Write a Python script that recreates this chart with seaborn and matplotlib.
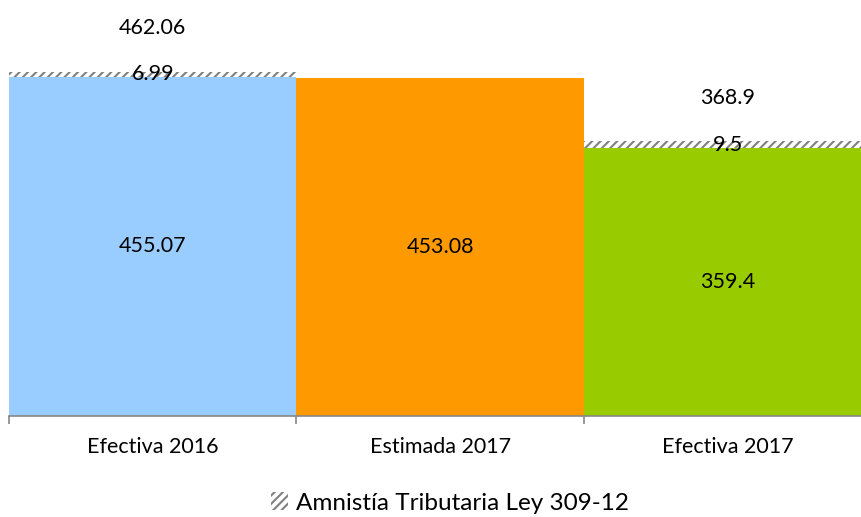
import pandas as pd
import seaborn as sns
import matplotlib.pyplot as plt

categories = ['Efectiva 2016', 'Estimada 2017', 'Efectiva 2017']
base_values = [455.07, 453.08, 359.4]
amnesty_values = [6.99, 0.0, 9.5]
total_labels = ['462.06', '', '368.9']
base_labels = ['455.07', '453.08', '359.4']
amnesty_labels = ['6.99', '', '9.5']
colors = ['#99CCFF', '#FF9900', '#99CC00']

sns.set_theme(style='white')
plt.rcParams['font.family'] = ['Lato', 'DejaVu Sans']
plt.rcParams['text.color'] = 'black'
plt.rcParams['hatch.color'] = '#808080'
plt.rcParams['hatch.linewidth'] = 1.5

df = pd.DataFrame({'cat': categories, 'base': base_values, 'amnesty': amnesty_values})
df['total'] = df['base'] + df['amnesty']

fig = plt.figure(figsize=(8.62, 5.17), dpi=100)
ax = fig.add_axes([9 / 862, 101 / 517, 862.5 / 862, 416 / 517])

# hatched totals behind, plain base bars in front
sns.barplot(data=df, x='cat', y='total', color='white', width=1, ax=ax,
            hatch='////', edgecolor='#808080', linewidth=0)
for p in ax.patches:
    p.set_facecolor('white')
sns.barplot(data=df, x='cat', y='base', hue='cat', palette=colors, width=1,
            ax=ax, legend=False, linewidth=0, saturation=1)

ax.set_xlim(-0.5, 2.5)
ax.set_ylim(0, 558)
ax.set_xlabel('')
ax.set_ylabel('')
ax.set_yticks([])
for s in ['top', 'right', 'left']:
    ax.spines[s].set_visible(False)
ax.spines['bottom'].set_color('#868686')
ax.spines['bottom'].set_linewidth(1.2)
ax.set_xticks([-0.5, 0.5, 1.5, 2.5])
ax.set_xticklabels([])
ax.tick_params(axis='x', bottom=True, length=6, color='#868686', width=1.2)
for i, c in enumerate(categories):
    ax.annotate(c, (i, 0), xytext=(0, -22), textcoords='offset points',
                ha='center', va='center', fontsize=15.5)

for i in range(len(categories)):
    ax.text(i, base_values[i] / 2, base_labels[i], ha='center', va='center', fontsize=15.5)
    if amnesty_labels[i]:
        ax.text(i, base_values[i] + amnesty_values[i] / 2, amnesty_labels[i],
                ha='center', va='center', fontsize=15.5)
        ax.annotate(total_labels[i], (i, df['total'][i]), xytext=(0, 31),
                    textcoords='offset points', ha='center', va='center', fontsize=15.5)

handle = plt.Rectangle((0, 0), 1, 1, facecolor='white', hatch='////',
                       edgecolor='#808080', linewidth=0)
fig.legend([handle], ['Amnistía Tributaria Ley 309-12'], loc='center',
           bbox_to_anchor=(0.522, 1 - 503 / 517), frameon=False, fontsize=17.5,
           handlelength=0.7, handleheight=0.7, handletextpad=0.3)

fig.savefig('out.png', dpi=100)
